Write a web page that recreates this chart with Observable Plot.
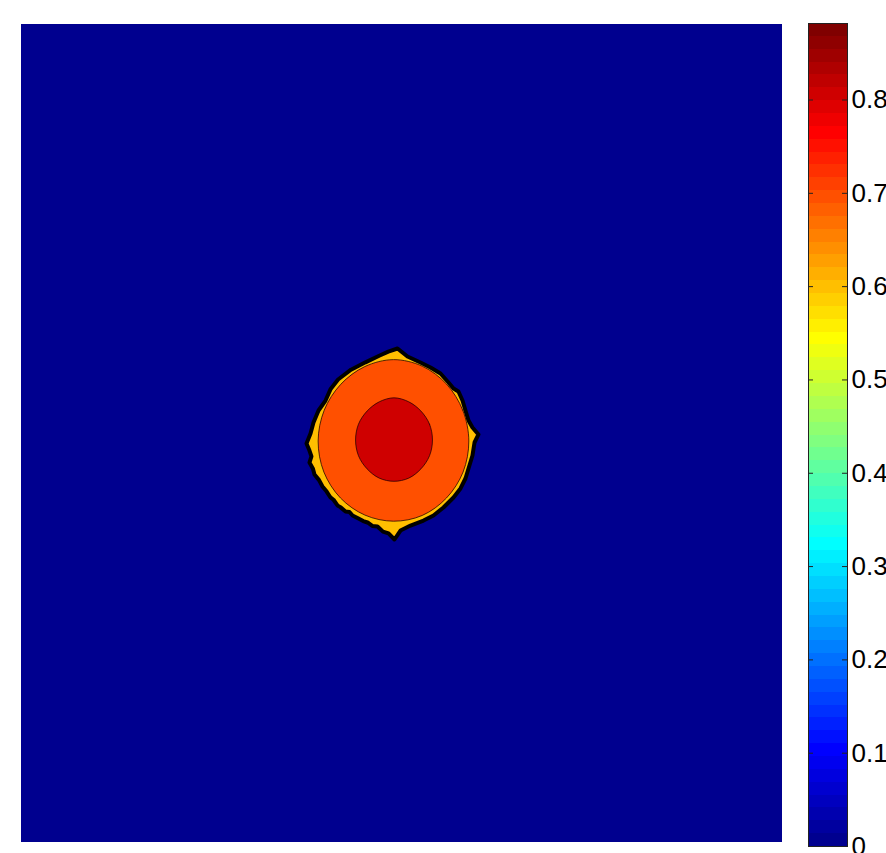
<!DOCTYPE html>
<html><head><meta charset="utf-8">
<script src="https://cdn.jsdelivr.net/npm/d3@7"></script>
<script src="https://cdn.jsdelivr.net/npm/@observablehq/plot@0.6"></script>
<style>
body{margin:0;background:#fff;overflow:hidden}
#wrap{display:flex;width:886px;height:853px;overflow:hidden}
#wrap svg{display:block;flex:none}
</style>
</head><body><div id="wrap"></div>
<script>
// ---- data ----
const gridX = [0, 100];
const gridY = [0, 100];
const colorMax = 0.882;              // top of colour bar
const backgroundLevel = 0;
const colorbarTicks = [0, 0.1, 0.2, 0.3, 0.4, 0.5, 0.6, 0.7, 0.8];

// level 0.6 contour (jagged outer edge; steep 0.1–0.5 lines packed on it)
const level60 = 0.6;
const outerX = [49.41,50.72,52.43,53.75,55.06,56.11,56.77,57.42,57.95,58.34,58.74,59.26,60.05,59.53,59.26,58.74,58.34,57.69,56.77,55.45,54.14,52.83,51.12,49.80,49.01,
  48.23,47.50,46.78,46.10,45.47,44.90,44.28,43.50,43.10,42.58,41.90,41.52,41.00,40.60,40.10,39.55,39.10,38.50,38.30,37.84,38.10,37.84,37.45,
  37.98,38.37,39.03,39.95,40.60,41.60,43.30,45.20,47.00,48.20];
const outerY = [60.39,59.41,58.68,58.07,57.33,56.23,55.50,55.13,54.03,52.81,51.59,50.73,49.88,48.90,47.31,45.72,44.50,43.28,42.18,40.95,39.98,39.36,38.75,38.14,37.04,
  37.78,38.00,38.63,38.70,39.12,39.30,39.61,39.98,40.40,40.46,41.00,41.20,41.90,42.18,42.90,43.52,44.30,44.99,45.70,46.45,47.20,47.92,48.78,
  50.00,51.34,52.81,54.03,55.40,56.60,57.80,58.70,59.50,60.00];

// level 0.7 contour (near-circle)
const level70 = 0.7;
const center70 = [48.88, 49.08];
const angles70 = [0,22.5,45,67.5,90,112.5,135,157.5,180,202.5,225,247.5,270,292.5,315,337.5];
const radius70 = [9.90,9.85,9.85,9.90,9.95,9.85,9.80,9.85,9.90,9.90,9.85,9.80,9.80,9.85,9.85,9.90];

// level 0.8 contour (inner disc)
const level80 = 0.8;
const center80 = [48.95, 49.21];
const angles80 = [0,22.5,45,67.5,90,112.5,135,157.5,180,202.5,225,247.5,270,292.5,315,337.5];
const radius80 = [5.05,5.05,5.00,5.05,5.15,5.05,5.00,5.05,5.05,5.05,5.00,5.05,5.05,5.05,5.00,5.05];

// ---- MATLAB jet(64) colour map ----
function u(j){ if (j < 1) return 0; if (j <= 16) return j/16; if (j <= 31) return 1; if (j <= 47) return (48 - j)/16; return 0; }
function jetRow(k){ return d3.rgb(u(k-24)*255, u(k-8)*255, u(k+8)*255).formatHex(); }
const jet64 = t => jetRow(Math.min(64, Math.max(1, Math.floor(t*64) + 1)));
const colorScale = {type: "linear", domain: [0, colorMax], interpolate: jet64};

// ---- build tables ----
const background = [{x1: gridX[0], x2: gridX[1], y1: gridY[0], y2: gridY[1], level: backgroundLevel}];
const outer = outerX.map((x, i) => ({x, y: outerY[i], level: level60}));
const polar = (c, a, r, level) => a.map((deg, i) => ({
  x: c[0] + r[i]*Math.cos(deg*Math.PI/180),
  y: c[1] + r[i]*Math.sin(deg*Math.PI/180), level}));
const ring70 = polar(center70, angles70, radius70, level70);
const disc80 = polar(center80, angles80, radius80, level80);

const main = Plot.plot({
  width: 795, height: 853,
  marginLeft: 21, marginRight: 13, marginTop: 24, marginBottom: 11,
  x: {domain: gridX, axis: null},
  y: {domain: gridY, axis: null},
  color: colorScale,
  marks: [
    Plot.rect(background, {x1: "x1", x2: "x2", y1: "y1", y2: "y2", fill: "level"}),
    Plot.line(outer, {x: "x", y: "y", fill: "level", stroke: "#000", strokeWidth: 4, strokeLinejoin: "round", curve: "linear-closed"}),
    Plot.line(ring70, {x: "x", y: "y", fill: "level", stroke: "#2a0800", strokeWidth: 0.8, curve: "catmull-rom-closed"}),
    Plot.line(disc80, {x: "x", y: "y", fill: "level", stroke: "#2a0000", strokeWidth: 0.8, curve: "catmull-rom-closed"})
  ]
});

const bands = d3.range(64).map(k => ({y1: k/64*colorMax, y2: (k+1)/64*colorMax, v: (k+0.5)/64*colorMax}));
const bar = Plot.plot({
  width: 91, height: 853,
  marginLeft: 13, marginRight: 39, marginTop: 23, marginBottom: 7,
  y: {domain: [0, colorMax], axis: null},
  color: colorScale,
  style: {fontFamily: "'Liberation Sans', Arial, sans-serif", overflow: "visible"},
  marks: [
    Plot.rect(bands, {y1: "y1", y2: "y2", fill: "v", shapeRendering: "crispEdges"}),
    Plot.tickY(colorbarTicks, {y: d => d, stroke: "#222", insetRight: 34}),
    Plot.tickY(colorbarTicks, {y: d => d, stroke: "#222", insetLeft: 34}),
    Plot.frame({stroke: "#222"}),
    Plot.axisY(colorbarTicks, {anchor: "right", tickSize: 0, tickPadding: 4, fontSize: 26, fill: "#000", tickFormat: d => String(d)})
  ]
});

document.getElementById("wrap").append(main, bar);
</script>
</body></html>
